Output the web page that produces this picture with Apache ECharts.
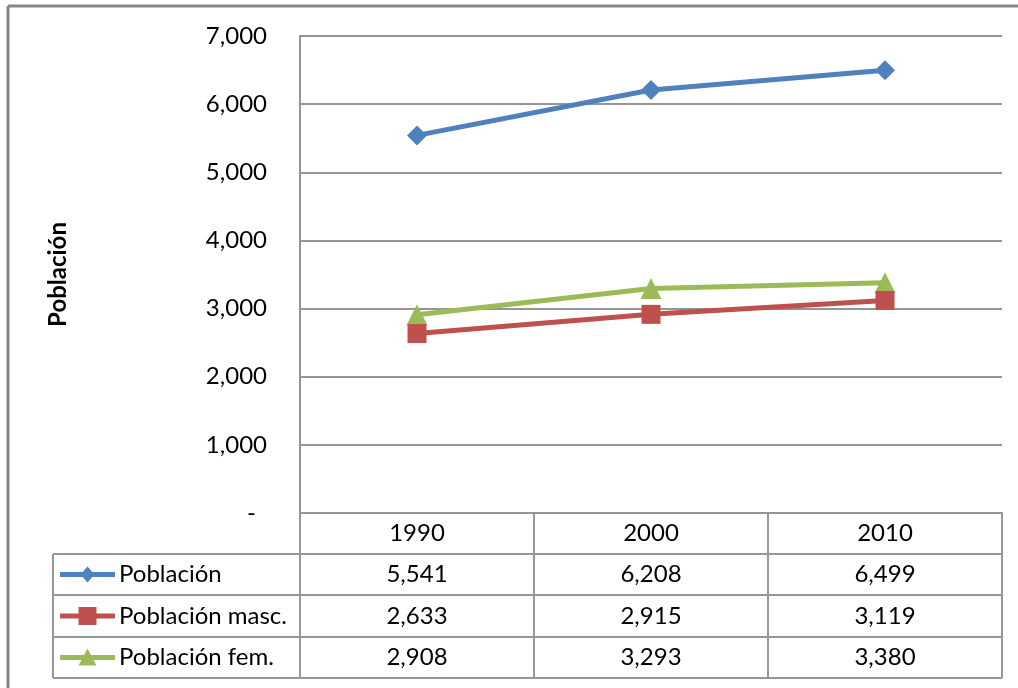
<!DOCTYPE html>
<html><head><meta charset="utf-8">
<script src="https://cdn.jsdelivr.net/npm/echarts/dist/echarts.min.js"></script>
<style>html,body{margin:0;padding:0;background:#fff}#c{width:1018px;height:688px}</style>
</head><body><div id="c"></div>
<script>
const categories = ['1990', '2000', '2010'];
const seriesNames = ['Población', 'Población masc.', 'Población fem.'];
const poblacion = [5541, 6208, 6499];
const poblacionMasc = [2633, 2915, 3119];
const poblacionFem = [2908, 3293, 3380];
const yAxisTitle = 'Población';
const yMin = 0, yMax = 7000, yStep = 1000;

const colors = ['#4F81BD', '#C0504D', '#9BBB59'];
const symbols = ['diamond', 'rect', 'triangle'];
const symbolSizes = [20, 19, 21];
const allData = [poblacion, poblacionMasc, poblacionFem];
const FONT = 'Lato';
const FS = 24;
const GRIDC = '#959595';

function fmt(n) { return n === 0 ? '-' : n.toLocaleString('en-US'); }

const chart = echarts.init(document.getElementById('c'), null, {renderer: 'canvas'});
const option = {
  animation: false,
  backgroundColor: '#fff',
  textStyle: {fontFamily: FONT},
  grid: {left: 300, right: 16, top: 36, bottom: 175, containLabel: false},
  xAxis: {
    type: 'category', data: categories, boundaryGap: true,
    axisLine: {show: true, lineStyle: {color: GRIDC, width: 2}},
    axisTick: {show: false},
    axisLabel: {fontFamily: FONT, fontSize: FS, color: '#000', margin: 8}
  },
  yAxis: {
    type: 'value', min: yMin, max: yMax, interval: yStep,
    name: yAxisTitle, nameLocation: 'middle', nameGap: 230, nameRotate: 90,
    nameTextStyle: {fontFamily: FONT, fontSize: 24, fontWeight: 'bold', color: '#000'},
    axisLine: {show: true, lineStyle: {color: GRIDC, width: 2}},
    axisTick: {show: false},
    splitLine: {show: true, lineStyle: {color: GRIDC, width: 2}},
    axisLabel: {
      fontFamily: FONT, fontSize: FS, color: '#000', margin: 33,
      formatter: v => v === 0 ? '{d|-}' : fmt(v),
      rich: {d: {fontFamily: FONT, fontSize: FS, color: '#000', padding: [0, 11, 0, 0]}}
    }
  },
  series: allData.map((d, i) => ({
    name: seriesNames[i], type: 'line', data: d,
    symbol: symbols[i], symbolSize: symbolSizes[i],
    lineStyle: {color: colors[i], width: 5},
    itemStyle: {color: colors[i]},
    z: 3 - i
  }))
};
chart.setOption(option);

// Data table below the plot, positioned from the category axis scale
const x0 = chart.convertToPixel({xAxisIndex: 0}, categories[0]);
const x1 = chart.convertToPixel({xAxisIndex: 0}, categories[1]);
const band = x1 - x0;
const left = x0 - band / 2;
const right = left + band * categories.length;
const axisY = chart.convertToPixel({yAxisIndex: 0}, 0);
const rowTops = [axisY, axisY + 41, axisY + 82, axisY + 124, axisY + 165];
const legendLeft = 53;
const lc = '#979797';
const g = [];
function line(x1, y1, x2, y2, c, w) {
  g.push({type: 'line', shape: {x1, y1, x2, y2}, style: {stroke: c || lc, lineWidth: w || 2}, silent: true});
}
// outer frame
line(8, 6, 1018, 6, '#868686', 3);
line(8, 6, 8, 688, '#868686', 3);
// table horizontal lines
for (let r = 1; r < rowTops.length; r++) line(legendLeft, rowTops[r], right, rowTops[r]);
// vertical lines
line(legendLeft, rowTops[1], legendLeft, rowTops[4]);
for (let c = 0; c <= categories.length; c++) {
  line(left + band * c, rowTops[0], left + band * c, rowTops[4]);
}
// values and legend keys
for (let s = 0; s < allData.length; s++) {
  const cy = (rowTops[s + 1] + rowTops[s + 2]) / 2;
  allData[s].forEach((v, c) => {
    const cx = chart.convertToPixel({xAxisIndex: 0}, categories[c]);
    g.push({type: 'text', x: cx, y: cy, silent: true,
      style: {text: fmt(v), font: FS + 'px ' + FONT, fill: '#000', align: 'center', verticalAlign: 'middle'}});
  });
  const lx1 = 60, lx2 = 115, mx = 87.5;
  line(lx1, cy, lx2, cy, colors[s], 5);
  if (s === 0) {
    g.push({type: 'polygon', shape: {points: [[mx, cy - 8], [mx + 7, cy], [mx, cy + 8], [mx - 7, cy]]}, style: {fill: colors[s]}});
  } else if (s === 1) {
    g.push({type: 'rect', shape: {x: mx - 9, y: cy - 9, width: 18, height: 18}, style: {fill: colors[s]}});
  } else {
    g.push({type: 'polygon', shape: {points: [[mx, cy - 9], [mx + 9, cy + 8], [mx - 9, cy + 8]]}, style: {fill: colors[s]}});
  }
  g.push({type: 'text', x: 119, y: cy, silent: true,
    style: {text: seriesNames[s], font: FS + 'px ' + FONT, fill: '#000', align: 'left', verticalAlign: 'middle'}});
}
chart.setOption({graphic: {elements: g}});
</script>
</body></html>
